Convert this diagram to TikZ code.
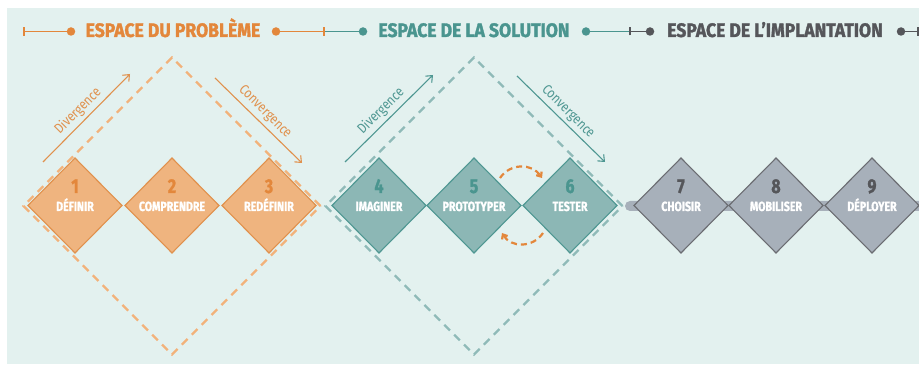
\documentclass[tikz,border=0pt]{standalone}
\usepackage{fontspec}
\setmainfont{Fira Sans}
\newfontfamily\hdfont{Fira Sans}[FakeStretch=0.9,FakeBold=1.6]
\newfontfamily\lbfont{Fira Sans}[FakeStretch=0.8,FakeBold=1.2]
\newfontfamily\ltfont{Fira Sans}[FakeStretch=0.85]
\usetikzlibrary{shapes.geometric,arrows.meta}
\definecolor{bg}{HTML}{E3F1EF}
\definecolor{orD}{HTML}{E3873B}
\definecolor{orF}{HTML}{EFB47F}
\definecolor{orS}{HTML}{E0914D}
\definecolor{orL}{HTML}{F2B27A}
\definecolor{teD}{HTML}{4A958F}
\definecolor{teF}{HTML}{8CB7B5}
\definecolor{teS}{HTML}{4F9792}
\definecolor{teL}{HTML}{8FBAB8}
\definecolor{grD}{HTML}{55565A}
\definecolor{grF}{HTML}{A7B0BA}
\definecolor{grS}{HTML}{6B6D72}
\begin{document}
\begin{tikzpicture}[x=1pt,y=-1pt,
  dia/.style={diamond, aspect=1, minimum width=94pt, minimum height=95pt, inner sep=0pt, outer sep=0pt, line width=1.1pt},
  bigdia/.style={diamond, aspect=1, minimum width=298pt, minimum height=298pt, inner sep=0pt, dash pattern=on 8pt off 6pt, line width=2.4pt},
  num/.style={font=\lbfont\bfseries\fontsize{20}{20}\selectfont, anchor=base, inner sep=0pt},
  lab/.style={font=\lbfont\bfseries\fontsize{13.3}{14}\selectfont, text=white, anchor=base, inner sep=0pt},
  hd/.style={font=\hdfont\bfseries\fontsize{19.5}{20}\selectfont, anchor=base, inner sep=0pt},
  side/.style={font=\ltfont\fontsize{14}{15}\selectfont, inner sep=0pt},
  hdot/.style={circle, inner sep=0pt, minimum size=8.5pt},
  hline/.style={line width=1.2pt},
  flow/.style={line width=1.1pt, -{Straight Barb[angle=80:7pt]}},
  loopar/.style={draw=orD, line width=2.2pt, dash pattern=on 6pt off 4pt, -{Straight Barb[angle=80:5pt]}}
]
\useasboundingbox (0,0) rectangle (919,366);
\fill[bg] (7,8) rectangle (919,364);

% header
\coordinate (t0) at (24,31.5);
\node[hdot, fill=orD] (d1) at (71,31.5) {};
\node[hd, text=orD] (hP) at (173,37) {ESPACE DU PROBLÈME};
\node[hdot, fill=orD] (d2) at (276,31.5) {};
\coordinate (t1) at (324,31.5);
\node[hdot, fill=teD] (d3) at (363,31.5) {};
\node[hd, text=teD] (hS) at (474,37) {ESPACE DE LA SOLUTION};
\node[hdot, fill=teD] (d4) at (586,31.5) {};
\coordinate (t2) at (630,31.5);
\node[hdot, fill=grD] (d5) at (650,31.5) {};
\node[hd, text=grD] (hI) at (775,37) {ESPACE DE L’IMPLANTATION};
\node[hdot, fill=grD] (d6) at (901,31.5) {};
\coordinate (t3) at (918,31.5);
\draw[hline, orD] (t0) -- (d1);
\draw[hline, orD] ([yshift=-4.5pt]t0) -- ([yshift=4.5pt]t0);
\draw[hline, orD] (d2) -- (t1);
\draw[hline, teD] (t1) -- (d3);
\draw[hline, orD] ([yshift=-4.5pt]t1) -- ([yshift=4.5pt]t1);
\draw[hline, teD] (d4) -- (t2);
\draw[hline, grD] (t2) -- (d5);
\draw[hline, grD] ([yshift=-4pt]t2) -- ([yshift=4pt]t2);
\draw[hline, grD] (d6) -- (t3);
\draw[hline, grD] ([yshift=-4.5pt]t3) -- ([yshift=4.5pt]t3);

% gray bar
\fill[grF, rounded corners=5pt] (625,201) rectangle (935,211);

% big dashed diamonds
\node[bigdia, draw=orL] (bigP) at (172,206) {};
\node[bigdia, draw=teL] (bigS) at (474,206) {};

% divergence / convergence arrows
\coordinate (a1s) at (43,162); \coordinate (a1e) at (130,74);
\coordinate (a2s) at (215,78); \coordinate (a2e) at (302,163);
\coordinate (a3s) at (345,162); \coordinate (a3e) at (433,75);
\coordinate (a4s) at (517,76); \coordinate (a4e) at (605,162);
\draw[flow, orS] (a1s) -- (a1e);
\draw[flow, orS] (a2s) -- (a2e);
\draw[flow, teS] (a3s) -- (a3e);
\draw[flow, teS] (a4s) -- (a4e);
\node[side, text=orS, rotate=45] (tx1) at (78,111) {Divergence};
\node[side, text=orS, rotate=-45] (tx2) at (265,112) {Convergence};
\node[side, text=teS, rotate=45] (tx3) at (381,111) {Divergence};
\node[side, text=teS, rotate=-45] (tx4) at (568,112) {Convergence};

% small diamonds
\foreach \i/\x/\f/\s/\n/\t in {1/75/orF/orS/orD/DÉFINIR, 2/172/orF/orS/orD/COMPRENDRE, 3/269/orF/orS/orD/REDÉFINIR,
  4/379/teF/teS/teD/IMAGINER, 5/474/teF/teS/teD/PROTOTYPER, 6/570/teF/teS/teD/TESTER,
  7/681/grF/grS/grD/CHOISIR, 8/776/grF/grS/grD/MOBILISER, 9/872/grF/grS/grD/DÉPLOYER}{
  \node[dia, fill=\f, draw=\s] (s\i) at (\x,205.5) {};
  \node[num, text=\n] (n\i) at (\x,193) {\i};
  \node[lab] (l\i) at (\x,211) {\t};
}

% loop arrows between 5 and 6
\coordinate (lp1) at (500,178); \coordinate (lp2) at (542,178);
\coordinate (lp3) at (543,233); \coordinate (lp4) at (502,233);
\draw[loopar] (lp1) .. controls (510,163) and (532,163) .. (lp2);
\draw[loopar] (lp3) .. controls (533,248) and (511,248) .. (lp4);
\end{tikzpicture}
\end{document}
